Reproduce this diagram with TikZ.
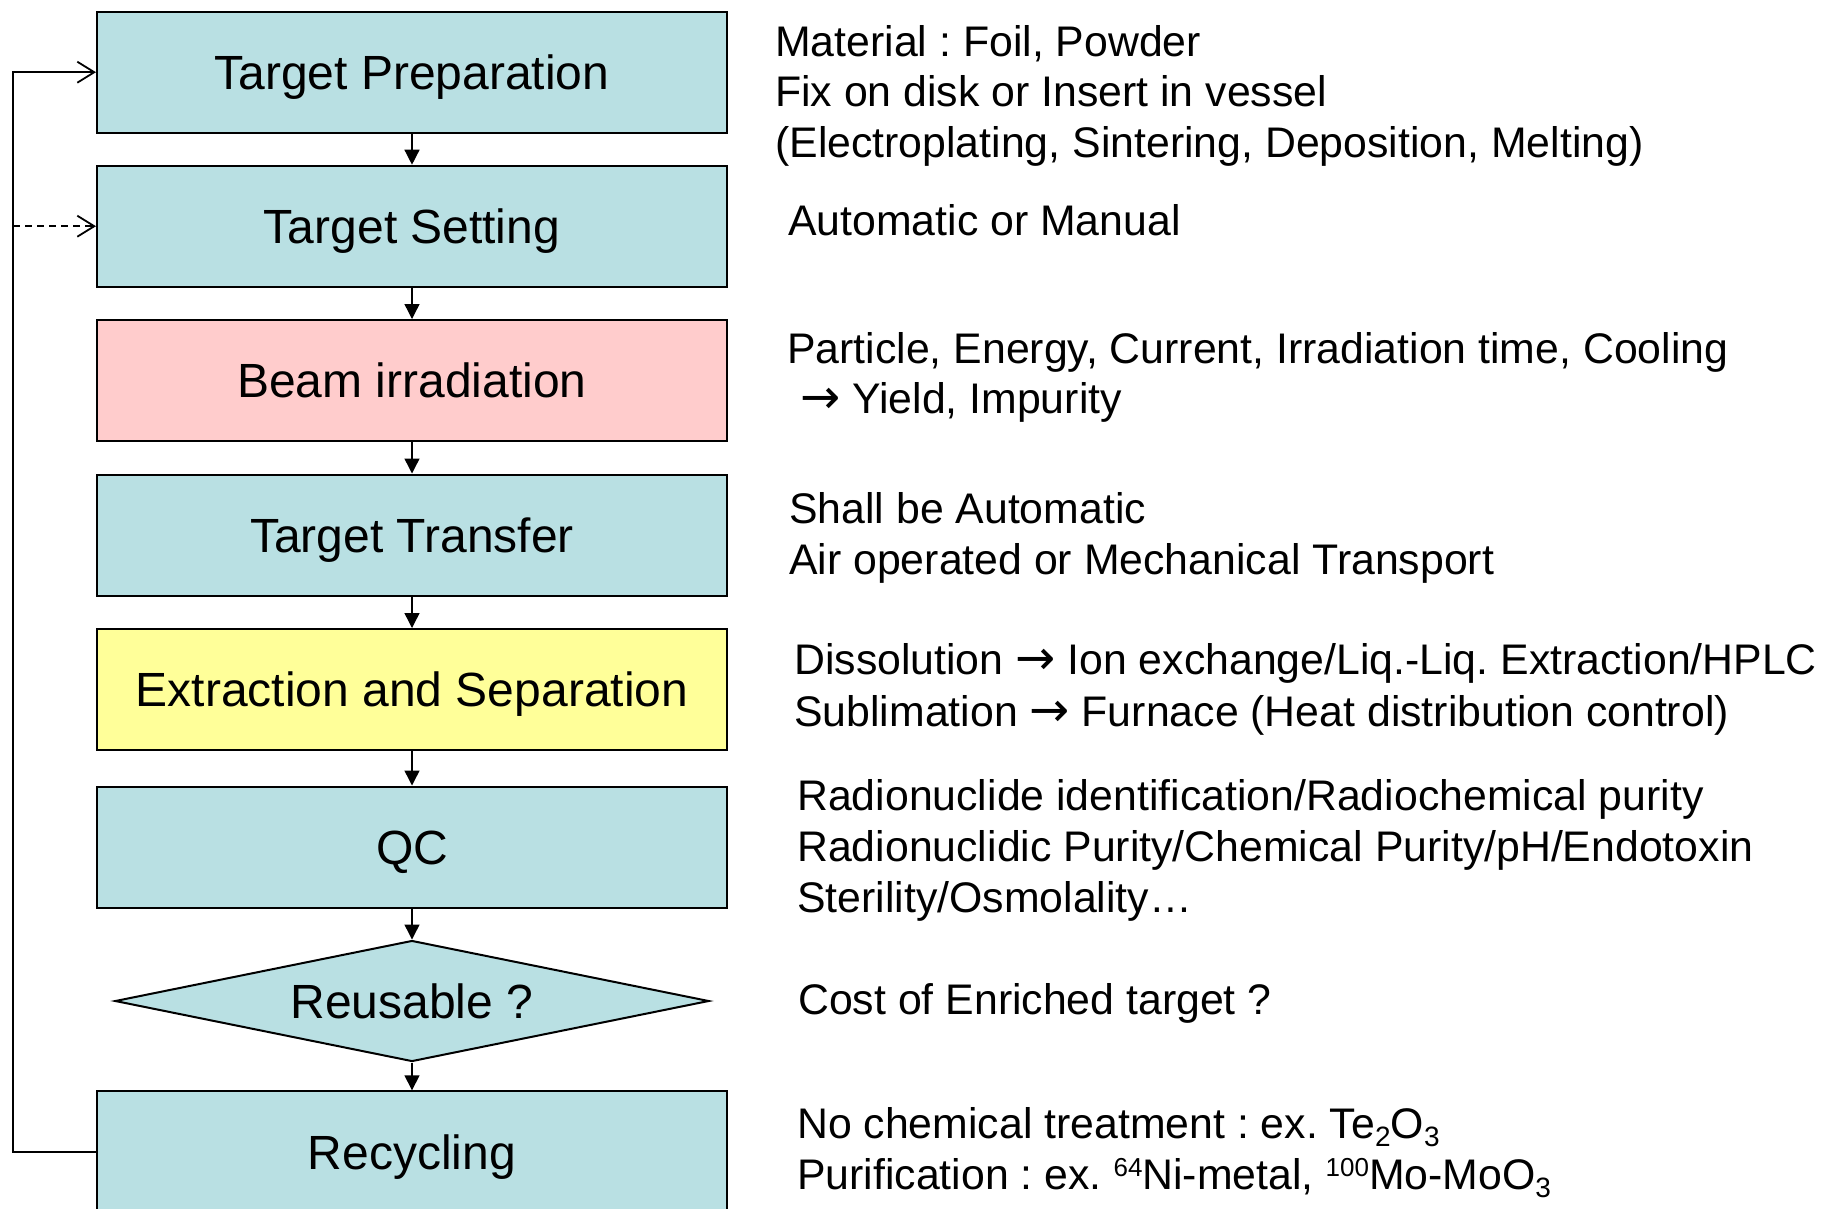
\documentclass[tikz,border=0pt]{standalone}
\usepackage{fontspec}
\setmainfont{Liberation Sans}
\newfontfamily\arrowfont{DejaVu Sans}
\usetikzlibrary{arrows.meta,shapes.geometric}
\definecolor{stepblue}{RGB}{185,224,227}
\definecolor{steppink}{RGB}{255,204,204}
\definecolor{stepyellow}{RGB}{255,255,153}
% chemical indices and the arrow used in the remarks
\newcommand\upidx[1]{\raisebox{13pt}{\fontsize{26}{26}\selectfont #1}}
\newcommand\downidx[1]{\raisebox{-8pt}{\fontsize{28}{28}\selectfont #1}}
\newcommand\rarr{{\arrowfont\fontsize{48}{48}\selectfont →}}
\frenchspacing
\begin{document}
\begin{tikzpicture}[x=1pt,y=-1pt,
  stepbox/.style={draw=black, line width=2pt, fill=stepblue,
    minimum width=630pt, minimum height=121pt, inner sep=0pt,
    text height=34.4pt, text depth=0pt, font=\fontsize{48}{58}\selectfont},
  decision/.style={diamond, draw=black, line width=2pt, fill=stepblue,
    minimum width=594pt, minimum height=121pt, aspect=4.9, inner sep=0pt,
    text height=34.4pt, text depth=0pt, font=\fontsize{48}{58}\selectfont},
  note/.style={anchor=base west, inner sep=0pt, font=\fontsize{42.8}{51}\selectfont},
  flow/.style={line width=1.4pt, -{Triangle[length=15pt,width=15pt]}},
  returnline/.style={line width=1.8pt},
  barb/.style={-{Straight Barb[length=17pt,width=21pt,line width=1.8pt]}},
]
\path[fill=white, use as bounding box] (0,0) rectangle (1830,1208);

% process steps
\node[stepbox] (prep)     at (412,72.2)   {Target Preparation};
\node[stepbox] (setting)  at (412,226.2)  {Target Setting};
\node[stepbox, fill=steppink] (beam) at (412,380.5) {Beam irradiation};
\node[stepbox] (transfer) at (412,535)    {Target Transfer};
\node[stepbox, fill=stepyellow] (extract) at (412,689.5) {Extraction and Separation};
\node[stepbox] (qc)       at (412,847)    {QC};
\node[decision] (reuse)   at (412,1001)   {Reusable ?};
\node[stepbox] (recycle)  at (412,1151.8) {Recycling};

% main flow
\draw[flow] (prep) -- (setting);
\draw[flow] (setting) -- (beam);
\draw[flow] (beam) -- (transfer);
\draw[flow] (transfer) -- (extract);
\draw[flow] (extract) -- (qc);
\draw[flow] (qc) -- (reuse);
\draw[flow] (reuse) -- (recycle);

% recycling loop
\coordinate (lc) at (13,0);
\draw[returnline, barb] (recycle.west) -- (recycle.west -| lc) -- (prep.west -| lc) -- (prep.west);
\draw[returnline, barb, dashed, dash pattern=on 7pt off 5pt] (setting.west -| lc) -- (setting.west);

% remarks
\node[note] (n1a) at (775,56.7)  {Material : Foil, Powder};
\node[note] (n1b) at (775,106.7) {Fix on disk or Insert in vessel};
\node[note] (n1c) at (775,157.3) {(Electroplating, Sintering, Deposition, Melting)};

\node[note] (n2a) at (788,235.7) {Automatic or Manual};

\node[note] (n3a) at (787,363.7) {Particle, Energy, Current, Irradiation time, Cooling};
\node[note] (n3b) at (800,413.8) {\rarr\ Yield, Impurity};

\node[note] (n4a) at (789,523.6) {Shall be Automatic};
\node[note] (n4b) at (789,574.9) {Air operated or Mechanical Transport};

\node[note] (n5a) at (794,674) {Dissolution \rarr\ Ion exchange/Liq.-Liq. Extraction/HPLC};
\node[note] (n5b) at (794,726) {Sublimation \rarr\ Furnace (Heat distribution control)};

\node[note] (n6a) at (797,810) {Radionuclide identification/Radiochemical purity};
\node[note] (n6b) at (797,861) {Radionuclidic Purity/Chemical Purity/pH/Endotoxin};
\node[note] (n6c) at (797,912) {Sterility/Osmolality…};

\node[note] (n7a) at (798,1014) {Cost of Enriched target ?};

\node[note] (n8a) at (797,1138)   {No chemical treatment : ex. Te\downidx{2}O\downidx{3}};
\node[note] (n8b) at (797,1189.7) {Purification : ex. \upidx{64}Ni-metal, \upidx{100}Mo-MoO\downidx{3}};
\end{tikzpicture}
\end{document}
